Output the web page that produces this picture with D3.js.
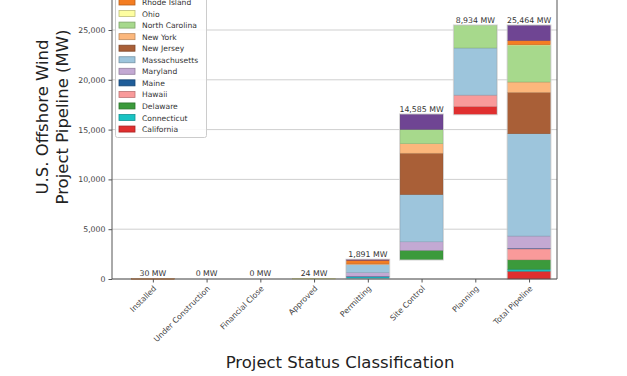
<!DOCTYPE html>
<html>
<head>
<meta charset="utf-8">
<script src="https://cdn.jsdelivr.net/npm/d3@7"></script>
<style>
    html, body { margin: 0; padding: 0; background: #fff; }
    svg { display: block; font-family: "DejaVu Sans", sans-serif; }
</style>
</head>
<body>
<div id="chart"></div>
<script>
// statuses along the x axis
const statuses = ['Installed', 'Under Construction', 'Financial Close', 'Approved',
    'Permitting', 'Site Control', 'Planning', 'Total Pipeline'];

// states, bottom of the stack first
const states = ['California', 'Connecticut', 'Delaware', 'Hawaii', 'Maine', 'Maryland',
    'Massachusetts', 'New Jersey', 'New York', 'North Carolina', 'Ohio', 'Rhode Island', 'Virginia'];

const stateColors = ['#e02f2f', '#19c3c3', '#3b9a3b', '#f99a9a', '#1f5d99', '#c3a9d3',
    '#9dc5dc', '#a95f37', '#fcb77c', '#a7d98c', '#fefea0', '#f47d22', '#6f4593'];

// MW per state for each status (same order as states)
const installed    = [0, 0, 0, 0, 0, 0, 0, 0, 0, 0, 0, 30, 0];
const underConstr  = [0, 0, 0, 0, 0, 0, 0, 0, 0, 0, 0, 0, 0];
const finClose     = [0, 0, 0, 0, 0, 0, 0, 0, 0, 0, 0, 0, 0];
const approved     = [0, 0, 0, 0, 0, 0, 0, 0, 0, 0, 24, 0, 0];
const permitting   = [0, 200, 0, 0, 12, 377, 800, 0, 90, 0, 0, 400, 12];
const siteControl  = [0, 0, 940, 0, 0, 850, 4745, 4150, 950, 1450, 0, 0, 1500];
const planning     = [784, 0, 0, 1150, 0, 0, 4730, 0, 0, 2270, 0, 0, 0];

const yTicks = [0, 5000, 10000, 15000, 20000, 25000];

const width = 627;
const height = 376;
const marginLeft = 112;
const marginRight = 70;
const marginBottom = 97;

const byStatus = [installed, underConstr, finClose, approved, permitting, siteControl, planning];
const totalPipeline = states.map((s, j) => d3.sum(byStatus, a => a[j]));
byStatus.push(totalPipeline);

// waterfall bases: each status starts where the previous one ended, total starts at 0
const bases = [];
let running = 0;
byStatus.forEach((arr, i) => {
    if (i === byStatus.length - 1) { bases.push(0); return; }
    bases.push(running);
    running += d3.sum(arr);
});

const segments = [];
byStatus.forEach((arr, i) => {
    let y0 = bases[i];
    arr.forEach((v, j) => {
        segments.push({ status: i, state: j, y0: y0, y1: y0 + v });
        y0 += v;
    });
});

const svg = d3.select('#chart')
    .append('svg')
    .attr('width', width)
    .attr('height', height);

const xScale = d3.scaleLinear()
    .domain([-0.76, 7.52])
    .range([marginLeft, width - marginRight]);

const yScale = d3.scaleLinear()
    .domain([0, 25000])
    .range([height - marginBottom, 30]);

const yTop = yScale(30000);

// grid lines
svg.append('g')
    .selectAll('line')
    .data(yTicks)
    .join('line')
        .attr('x1', marginLeft)
        .attr('x2', width - marginRight)
        .attr('y1', d => yScale(d))
        .attr('y2', d => yScale(d))
        .attr('stroke', '#cfcfcf')
        .attr('stroke-width', 1);

// bars
const barW = xScale(0.8) - xScale(0);

svg.append('g')
    .selectAll('rect')
    .data(segments.filter(d => d.y1 > d.y0))
    .join('rect')
        .attr('x', d => xScale(d.status - 0.4))
        .attr('width', barW)
        .attr('y', d => yScale(d.y1))
        .attr('height', d => Math.max(0.6, yScale(d.y0) - yScale(d.y1)))
        .attr('fill', d => stateColors[d.state])
        .attr('stroke', d => d3.color(stateColors[d.state]).darker(0.6))
        .attr('stroke-width', 0.5);

// light outline around each bar
svg.append('g')
    .selectAll('rect')
    .data(byStatus.map((arr, i) => ({ i, y0: bases[i], y1: bases[i] + d3.sum(arr) })).filter(d => d.y1 - d.y0 > 100))
    .join('rect')
        .attr('x', d => xScale(d.i - 0.4) - 0.5)
        .attr('width', barW + 1)
        .attr('y', d => yScale(d.y1) - 0.5)
        .attr('height', d => yScale(d.y0) - yScale(d.y1) + 1)
        .attr('fill', 'none')
        .attr('stroke', '#d4d4d4')
        .attr('stroke-width', 0.8);

// value labels
svg.append('g')
    .selectAll('text')
    .data(byStatus)
    .join('text')
        .attr('x', (d, i) => xScale(i))
        .attr('y', (d, i) => yScale(bases[i] + d3.sum(d)) - 2.5)
        .attr('text-anchor', 'middle')
        .attr('font-size', 7.8)
        .attr('fill', '#333')
        .text(d => d3.format(',')(d3.sum(d)) + ' MW');

// spines
const spines = svg.append('g').attr('stroke', '#555').attr('stroke-width', 1);
spines.append('line')
    .attr('x1', marginLeft).attr('x2', marginLeft)
    .attr('y1', yTop).attr('y2', yScale(0));
spines.append('line')
    .attr('x1', width - marginRight).attr('x2', width - marginRight)
    .attr('y1', yTop).attr('y2', yScale(0));
spines.append('line')
    .attr('x1', marginLeft).attr('x2', width - marginRight)
    .attr('y1', yScale(0)).attr('y2', yScale(0));

// y axis
const yAxis = d3.axisLeft(yScale)
    .tickValues(yTicks)
    .tickSize(3.5)
    .tickPadding(3)
    .tickFormat(d3.format(','));

const yg = svg.append('g')
    .attr('transform', `translate(${marginLeft}, 0)`)
    .call(yAxis);
yg.select('.domain').remove();
yg.selectAll('line').attr('stroke', '#555');
yg.selectAll('text')
    .attr('font-size', 7.8)
    .attr('fill', '#444')
    .attr('font-family', '"DejaVu Sans", sans-serif');

// x axis
const xAxis = d3.axisBottom(xScale)
    .tickValues(d3.range(statuses.length))
    .tickSize(3.5)
    .tickFormat('');

const xg = svg.append('g')
    .attr('transform', `translate(0, ${yScale(0)})`)
    .call(xAxis);
xg.select('.domain').remove();
xg.selectAll('line').attr('stroke', '#555');

svg.append('g')
    .selectAll('text')
    .data(statuses)
    .join('text')
        .attr('transform', (d, i) => `translate(${xScale(i) + 4}, ${yScale(0) + 10}) rotate(-45)`)
        .attr('text-anchor', 'end')
        .attr('font-size', 7.8)
        .attr('fill', '#444')
        .text(d => d);

// axis titles
const yLabel = svg.append('text')
    .attr('transform', 'translate(48, 117) rotate(-90)')
    .attr('text-anchor', 'middle')
    .attr('font-size', 16.5)
    .attr('fill', '#222');
yLabel.append('tspan').attr('x', 0).attr('dy', 0).text('U.S. Offshore Wind');
yLabel.append('tspan').attr('x', 0).attr('dy', 19.5).text('Project Pipeline (MW)');

svg.append('text')
    .attr('x', 340)
    .attr('y', 368)
    .attr('text-anchor', 'middle')
    .attr('font-size', 16.5)
    .attr('fill', '#222')
    .text('Project Status Classification');

// legend, top entry first
const legendStates = states.slice().reverse();
const legendColors = stateColors.slice().reverse();
const rowH = 11.55;
const firstRowY = 2 - rowH;

const legend = svg.append('g');
legend.append('rect')
    .attr('x', 115.5)
    .attr('y', firstRowY - 14)
    .attr('width', 91)
    .attr('height', 137.5 - (firstRowY - 14))
    .attr('rx', 2)
    .attr('fill', '#fff')
    .attr('fill-opacity', 0.85)
    .attr('stroke', '#ccc')
    .attr('stroke-width', 1);

const rows = legend.selectAll('g.row')
    .data(legendStates)
    .join('g')
        .attr('class', 'row')
        .attr('transform', (d, i) => `translate(0, ${firstRowY + i * rowH})`);

rows.append('rect')
    .attr('x', 119)
    .attr('y', -3)
    .attr('width', 16)
    .attr('height', 6)
    .attr('fill', (d, i) => legendColors[i])
    .attr('stroke', (d, i) => d3.color(legendColors[i]).darker(0.8))
    .attr('stroke-width', 0.8);

rows.append('text')
    .attr('x', 142)
    .attr('y', 3)
    .attr('font-size', 7.6)
    .attr('fill', '#333')
    .text(d => d);
</script>
</body>
</html>
